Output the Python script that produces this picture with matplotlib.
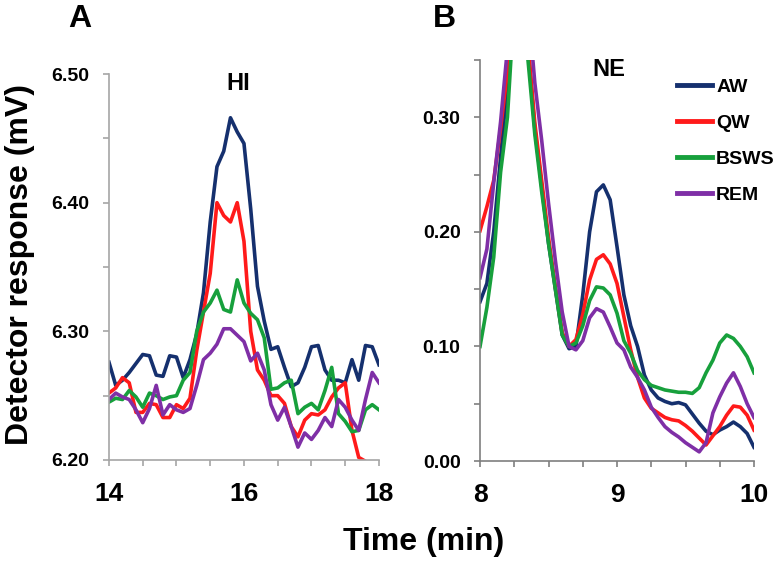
import numpy as np
import matplotlib
matplotlib.use("Agg")
import matplotlib.pyplot as plt
from matplotlib.ticker import MultipleLocator, FormatStrFormatter

plt.rcParams['font.family'] = ['Liberation Sans', 'DejaVu Sans']
plt.rcParams['font.weight'] = 'bold'

labels = ["AW", "QW", "BSWS", "REM"]
colors = ["#15306e", "#ff1a1a", "#17a03c", "#7f2fa6"]

# panel A: HI, sampled every 0.1 min
hi_time = np.round(np.arange(14.0, 18.001, 0.1), 2)
hi_aw = [6.276, 6.258, 6.262, 6.268, 6.275, 6.282, 6.281, 6.266, 6.265, 6.281,
         6.280, 6.264, 6.278, 6.298, 6.330, 6.385, 6.428, 6.440, 6.466, 6.455,
         6.446, 6.395, 6.335, 6.308, 6.286, 6.288, 6.272, 6.257, 6.260, 6.272,
         6.288, 6.289, 6.270, 6.262, 6.262, 6.260, 6.278, 6.262, 6.289, 6.288,
         6.274]
hi_qw = [6.252, 6.256, 6.264, 6.260, 6.237, 6.237, 6.244, 6.243, 6.233, 6.233,
         6.243, 6.240, 6.248, 6.285, 6.315, 6.345, 6.400, 6.390, 6.385, 6.400,
         6.370, 6.300, 6.270, 6.262, 6.250, 6.250, 6.244, 6.226, 6.218, 6.231,
         6.236, 6.235, 6.239, 6.249, 6.256, 6.260, 6.223, 6.202, 6.199, 6.190,
         6.180]
hi_bsws = [6.245, 6.248, 6.247, 6.254, 6.249, 6.241, 6.252, 6.250, 6.247, 6.249,
           6.250, 6.262, 6.268, 6.300, 6.315, 6.322, 6.332, 6.317, 6.315, 6.340,
           6.322, 6.314, 6.309, 6.295, 6.255, 6.256, 6.260, 6.262, 6.236, 6.241,
           6.244, 6.239, 6.254, 6.272, 6.236, 6.230, 6.222, 6.223, 6.239, 6.243,
           6.239]
hi_rem = [6.247, 6.252, 6.249, 6.247, 6.239, 6.229, 6.240, 6.258, 6.235, 6.243,
          6.239, 6.237, 6.240, 6.258, 6.278, 6.283, 6.290, 6.302, 6.302, 6.297,
          6.292, 6.277, 6.283, 6.270, 6.243, 6.231, 6.241, 6.226, 6.210, 6.221,
          6.216, 6.223, 6.233, 6.226, 6.247, 6.241, 6.231, 6.223, 6.247, 6.268,
          6.260]

# panel B: NE, sampled every 0.05 min
ne_time = np.round(np.arange(8.0, 10.001, 0.05), 2)
ne_aw = [0.139, 0.155, 0.200, 0.265, 0.330, 0.450, 0.480, 0.360, 0.290, 0.240,
         0.190, 0.150, 0.110, 0.098, 0.100, 0.145, 0.200, 0.235, 0.241, 0.228,
         0.187, 0.145, 0.118, 0.100, 0.075, 0.062, 0.055, 0.052, 0.050, 0.051,
         0.049, 0.041, 0.033, 0.026, 0.023, 0.027, 0.030, 0.034, 0.030, 0.024,
         0.012]
ne_qw = [0.201, 0.222, 0.245, 0.290, 0.340, 0.450, 0.480, 0.365, 0.295, 0.245,
         0.195, 0.152, 0.112, 0.100, 0.106, 0.128, 0.158, 0.176, 0.180, 0.172,
         0.155, 0.126, 0.097, 0.073, 0.055, 0.046, 0.042, 0.038, 0.036, 0.035,
         0.031, 0.026, 0.020, 0.014, 0.022, 0.030, 0.040, 0.048, 0.047, 0.040,
         0.027]
ne_bsws = [0.100, 0.134, 0.178, 0.252, 0.300, 0.400, 0.450, 0.350, 0.285, 0.235,
           0.190, 0.150, 0.110, 0.100, 0.103, 0.118, 0.140, 0.152, 0.151, 0.145,
           0.129, 0.105, 0.094, 0.079, 0.071, 0.066, 0.064, 0.062, 0.061, 0.060,
           0.060, 0.059, 0.064, 0.077, 0.088, 0.103, 0.110, 0.107, 0.100, 0.091,
           0.077]
ne_rem = [0.160, 0.185, 0.243, 0.296, 0.360, 0.460, 0.490, 0.400, 0.330, 0.280,
          0.225, 0.175, 0.130, 0.100, 0.097, 0.105, 0.125, 0.133, 0.130, 0.117,
          0.103, 0.097, 0.082, 0.073, 0.062, 0.047, 0.038, 0.030, 0.025, 0.021,
          0.016, 0.012, 0.008, 0.016, 0.042, 0.056, 0.068, 0.077, 0.065, 0.050,
          0.038]

fig = plt.figure(figsize=(7.75, 5.62), dpi=100)
ax_hi = fig.add_axes([0.1406, 0.1815, 0.3484, 0.6868])
ax_ne = fig.add_axes([0.6194, 0.1797, 0.3535, 0.7135])

for vals, lab, col in zip([hi_aw, hi_qw, hi_bsws, hi_rem], labels, colors):
    ax_hi.plot(hi_time, vals, color=col, lw=2.6, label=lab)
for vals, lab, col in zip([ne_aw, ne_qw, ne_bsws, ne_rem], labels, colors):
    ax_ne.plot(ne_time, vals, color=col, lw=2.6, label=lab)

ax_hi.set_xlim(14, 18)
ax_hi.set_ylim(6.20, 6.50)
ax_hi.xaxis.set_major_locator(MultipleLocator(2))
ax_hi.xaxis.set_minor_locator(MultipleLocator(0.5))
ax_hi.yaxis.set_major_locator(MultipleLocator(0.1))
ax_hi.yaxis.set_minor_locator(MultipleLocator(0.05))

ax_ne.set_xlim(8, 10)
ax_ne.set_ylim(0, 0.35)
ax_ne.xaxis.set_major_locator(MultipleLocator(1))
ax_ne.xaxis.set_minor_locator(MultipleLocator(0.25))
ax_ne.yaxis.set_major_locator(MultipleLocator(0.1))
ax_ne.yaxis.set_minor_locator(MultipleLocator(0.05))

for ax, spc in [(ax_hi, "#a6a6a6"), (ax_ne, "#7f7f7f")]:
    ax.spines["top"].set_visible(False)
    ax.spines["right"].set_visible(False)
    ax.spines["left"].set_color(spc)
    ax.spines["bottom"].set_color(spc)
    ax.spines["left"].set_linewidth(1.2)
    ax.spines["bottom"].set_linewidth(1.2)
    ax.yaxis.set_major_formatter(FormatStrFormatter("%.2f"))
    ax.tick_params(axis="both", which="both", direction="out", length=4,
                   width=1.2, color=spc)
    ax.tick_params(axis="y", which="major", labelsize=14, pad=10)
    ax.tick_params(axis="x", which="major", labelsize=19, pad=12)
    ax.set_facecolor("none")

ax_hi.set_title("HI", fontsize=17, fontweight="bold", x=0.48, y=0.955, va="center")
ax_ne.set_title("NE", fontsize=17, fontweight="bold", x=0.47, y=0.955, va="center")

fig.text(0.103, 0.966, "A", fontsize=23, fontweight="bold", ha="center", va="center")
fig.text(0.574, 0.966, "B", fontsize=23, fontweight="bold", ha="center", va="center")

fig.text(0.026, 0.53, "Detector response (mV)", rotation=90, fontsize=23,
         fontweight="bold", ha="center", va="center")
fig.text(0.547, 0.035, "Time (min)", fontsize=23, fontweight="bold",
         ha="center", va="center")

leg = ax_ne.legend(loc="upper left", bbox_to_anchor=(0.72, 0.955), frameon=False,
                   fontsize=14, handlelength=1.8, handletextpad=0.2,
                   labelspacing=0.95, borderpad=0, borderaxespad=0)
for line in leg.get_lines():
    line.set_linewidth(3.5)

fig.savefig("out.png", dpi=100)
